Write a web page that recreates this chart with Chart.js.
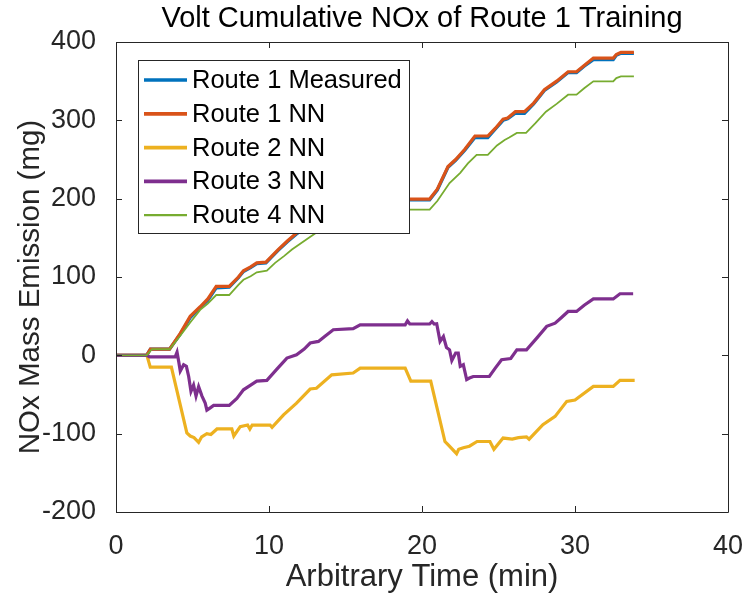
<!DOCTYPE html>
<html>
<head>
<meta charset="utf-8">
<script src="https://cdn.jsdelivr.net/npm/chart.js@4.4.1/dist/chart.umd.min.js"></script>
<style>
  html, body { margin: 0; padding: 0; background: #fff; }
  #wrap { width: 745px; height: 600px; }
</style>
</head>
<body>
<div id="wrap"><canvas id="nox-chart" width="745" height="600"></canvas></div>
<script>
/* Cumulative NOx, time in minutes, mass in mg */
const seriesNames = ['Route 1 Measured', 'Route 1 NN', 'Route 2 NN', 'Route 3 NN', 'Route 4 NN'];
const seriesColors = ['#0072BD', '#D95319', '#EDB120', '#7E2F8E', '#77AC30'];
const seriesWidths = [3.2, 3.2, 3.2, 3.2, 1.8];

const chartTitle = 'Volt Cumulative NOx of Route 1 Training';
const xTitle = 'Arbitrary Time (min)';
const yTitle = 'NOx Mass Emission (mg)';

const xTicks = [0, 10, 20, 30, 40];
const yTicks = [-200, -100, 0, 100, 200, 300, 400];

const r1MeasTime = [0, 2.0, 2.25, 3.5, 4.2, 4.85, 5.5, 6.0, 6.55, 7.4, 8.0, 8.33, 8.8, 9.2, 9.8, 10.2, 10.6, 11.2, 11.8, 12.5, 13.2, 14.0, 14.8, 15.5, 16.3, 17.2, 18.0, 19.2, 20.5, 21.0, 21.7, 22.2, 22.8, 23.46, 24.3, 24.8, 25.3, 25.6, 26.1, 26.7, 27.3, 28.0, 28.8, 29.55, 30.1, 30.6, 31.2, 32.5, 32.7, 33.0, 33.85];
const r1MeasVal = [0, 0, 8, 8, 27, 48, 61, 70, 86, 87, 99, 107, 112, 117, 118, 126, 134, 145, 155, 164, 171, 177, 183, 187, 192, 196, 198, 198.5, 198.5, 211, 240, 249, 262, 278, 278, 289, 300, 302, 309, 309, 321, 338, 349, 361, 361, 369, 377.5, 377.5, 383, 385.5, 385.5];

const r1NNTime = [0, 2.0, 2.25, 3.5, 4.2, 4.85, 5.5, 6.0, 6.55, 7.4, 8.0, 8.33, 8.8, 9.2, 9.8, 10.2, 10.6, 11.2, 11.8, 12.5, 13.2, 14.0, 14.8, 15.5, 16.3, 17.2, 18.0, 19.2, 20.5, 21.0, 21.7, 22.2, 22.8, 23.46, 24.3, 24.8, 25.3, 25.6, 26.1, 26.7, 27.3, 28.0, 28.8, 29.55, 30.1, 30.6, 31.2, 32.5, 32.7, 33.0, 33.85];
const r1NNVal = [0, 0, 8, 8, 28, 50, 62, 72, 88, 88, 100, 108, 113, 118, 119, 127, 135, 146, 156, 165, 172, 178, 184, 188, 193, 197, 199, 199.5, 199.5, 212, 241, 250, 263, 280, 280, 290, 301.6, 303, 311, 311, 322, 339, 350, 362, 362, 370, 379.5, 379.5, 384, 386.7, 386.7];

const r2NNTime = [0, 2.02, 2.24, 3.62, 4.63, 4.85, 5.1, 5.4, 5.6, 5.94, 6.2, 6.6, 7.57, 7.7, 8.12, 8.6, 8.75, 8.9, 10.07, 10.2, 10.95, 11.8, 12.69, 13.1, 14.1, 15.5, 15.96, 18.9, 19.27, 20.57, 21.5, 21.7, 22.26, 22.4, 22.7, 23.1, 23.6, 24.44, 24.7, 25.3, 25.9, 26.3, 26.83, 27.0, 27.9, 28.7, 29.46, 30.0, 31.2, 32.5, 32.94, 33.9];
const r2NNVal = [0, 0, -15, -15, -99, -103, -105, -111, -104, -100, -101, -94, -94, -103, -91, -89, -94, -89, -89, -92, -76, -61, -43, -42, -25, -22.6, -16.3, -16.3, -33, -33, -110, -114, -125.6, -120, -118, -116, -110, -110, -120, -105.6, -107, -105, -104, -107, -88.6, -78, -58.8, -57, -39.7, -39.7, -32, -32];

const r3NNTime = [0, 2.02, 2.2, 3.87, 3.99, 4.1, 4.2, 4.42, 4.6, 4.75, 4.9, 5.07, 5.23, 5.4, 5.62, 5.83, 5.94, 6.16, 6.38, 7.4, 7.9, 8.33, 8.8, 9.2, 9.86, 10.5, 11.17, 11.8, 12.3, 12.69, 13.23, 13.7, 14.2, 15.5, 15.96, 18.9, 19.05, 19.2, 20.5, 20.65, 20.8, 20.96, 21.18, 21.4, 21.6, 21.8, 21.95, 22.2, 22.37, 22.5, 22.7, 22.92, 23.1, 23.35, 24.4, 24.8, 25.2, 25.8, 26.2, 26.83, 27.5, 28.15, 28.7, 29.1, 29.55, 30.1, 30.6, 31.2, 32.5, 32.94, 33.8];
const r3NNVal = [0, 0, -2, -2, 4, -8, -20, -12, -14, -27, -46, -38, -52, -40, -52, -61, -70, -67, -64, -64, -55, -44, -38, -33, -32, -18, -3.5, 0.7, 8, 15.7, 17.8, 25, 32.7, 34, 39, 39, 44, 40, 40, 43, 40, 40.3, 17.8, 24, 10, 7, -6.5, 3, 3, -14, -12, -31, -29, -27, -27, -16, -5.6, -4, 7, 7, 22, 37, 41, 48, 56, 56, 64, 72, 72, 78.6, 78.6];

const r4NNTime = [0, 2.0, 2.35, 3.5, 4.2, 4.85, 5.5, 6.0, 6.55, 7.4, 8.0, 8.33, 8.8, 9.2, 9.86, 10.4, 11.0, 11.5, 12.3, 13.2, 14.0, 14.8, 15.5, 16.5, 17.5, 19.2, 20.5, 21.0, 21.8, 22.5, 23.0, 23.57, 24.3, 24.9, 25.4, 25.7, 26.2, 26.8, 27.4, 28.1, 28.8, 29.55, 30.1, 30.6, 31.2, 32.5, 32.7, 33.0, 33.85];
const r4NNVal = [0, 0, 8, 8, 25, 42, 58, 66, 77, 77, 90, 96.5, 101, 106, 108, 118, 127, 135, 146, 158, 166, 172, 177, 182, 185, 186, 186, 197, 220, 233, 245, 256, 256, 268, 275, 278, 284, 284, 296, 311, 321, 332.7, 332.7, 341, 349.7, 349.7, 354, 356, 356];

const seriesTimes = [r1MeasTime, r1NNTime, r2NNTime, r3NNTime, r4NNTime];
const seriesVals = [r1MeasVal, r1NNVal, r2NNVal, r3NNVal, r4NNVal];

const axisColor = '#262626';
const fontFamily = '"Liberation Sans", Arial, Helvetica, sans-serif';

// build datasets; later routes are drawn on top like the original plot order
const datasets = seriesNames.map((name, i) => ({
  label: name,
  data: seriesTimes[i].map((t, j) => ({ x: t, y: seriesVals[i][j] })),
  borderColor: seriesColors[i],
  backgroundColor: seriesColors[i],
  borderWidth: seriesWidths[i],
  pointRadius: 0,
  tension: 0,
  fill: false,
  order: seriesNames.length - 1 - i
}));

// box around the plot with inward tick marks on all four sides
const axesBox = {
  id: 'axesBox',
  afterDatasetsDraw(chart) {
    const { ctx, chartArea: a, scales } = chart;
    const tl = 6;
    ctx.save();
    ctx.strokeStyle = axisColor;
    ctx.lineWidth = 1;
    ctx.beginPath();
    ctx.rect(Math.round(a.left) + 0.5, Math.round(a.top) + 0.5, Math.round(a.right - a.left), Math.round(a.bottom - a.top));
    xTicks.forEach(v => {
      const x = Math.round(scales.x.getPixelForValue(v)) + 0.5;
      ctx.moveTo(x, a.bottom); ctx.lineTo(x, a.bottom - tl);
      ctx.moveTo(x, a.top); ctx.lineTo(x, a.top + tl);
    });
    yTicks.forEach(v => {
      const y = Math.round(scales.y.getPixelForValue(v)) + 0.5;
      ctx.moveTo(a.left, y); ctx.lineTo(a.left + tl, y);
      ctx.moveTo(a.right, y); ctx.lineTo(a.right - tl, y);
    });
    ctx.stroke();
    ctx.restore();
  }
};

// title centred over the plot, y-axis label centred a bit below the plot middle
const plotTexts = {
  id: 'plotTexts',
  afterDraw(chart) {
    const { ctx, chartArea: a } = chart;
    ctx.save();
    ctx.textAlign = 'center';
    ctx.textBaseline = 'middle';
    ctx.fillStyle = '#000';
    ctx.font = '29px ' + fontFamily;
    ctx.fillText(chartTitle, (a.left + a.right) / 2, 19);
    ctx.fillStyle = axisColor;
    ctx.font = '29.5px ' + fontFamily;
    ctx.translate(31, 287);
    ctx.rotate(-Math.PI / 2);
    ctx.fillText(yTitle, 0, 0);
    ctx.restore();
  }
};

// boxed legend in the upper left of the plot
const boxLegend = {
  id: 'boxLegend',
  afterDraw(chart) {
    const { ctx, chartArea: a } = chart;
    const left = a.left + 22, top = 60, w = 271, h = 173;
    const rowH = 33.8, firstRow = 80;
    ctx.save();
    ctx.fillStyle = '#fff';
    ctx.fillRect(left, top, w, h);
    ctx.strokeStyle = axisColor;
    ctx.lineWidth = 1;
    ctx.strokeRect(Math.round(left) + 0.5, top + 0.5, w, h);
    ctx.font = '25.5px ' + fontFamily;
    ctx.textBaseline = 'middle';
    ctx.textAlign = 'left';
    chart.data.datasets.forEach((ds, i) => {
      const y = firstRow + i * rowH;
      ctx.strokeStyle = ds.borderColor;
      ctx.lineWidth = ds.borderWidth + 0.5;
      ctx.beginPath();
      ctx.moveTo(left + 6, y);
      ctx.lineTo(left + 49, y);
      ctx.stroke();
      ctx.fillStyle = '#000';
      ctx.fillText(ds.label, left + 54, y + 1);
    });
    ctx.restore();
  }
};

const config = {
  type: 'line',
  data: { datasets: datasets },
  options: {
    responsive: false,
    animation: false,
    layout: { padding: { left: 0, right: 17, top: 42, bottom: 0 } },
    plugins: {
      legend: { display: false },
      tooltip: { enabled: false },
      title: { display: false }
    },
    scales: {
      x: {
        type: 'linear',
        min: 0,
        max: 40,
        grid: { display: false },
        border: { display: false },
        afterBuildTicks: s => { s.ticks = xTicks.map(v => ({ value: v })); },
        // fixed axis height, and let the last tick label hang into the right margin
        afterFit: s => { s.height = 88; s.paddingLeft = 0; s.paddingRight = 0; },
        ticks: {
          color: axisColor,
          padding: 10,
          maxRotation: 0,
          font: { family: fontFamily, size: 27 }
        },
        title: {
          display: true,
          text: xTitle,
          color: axisColor,
          font: { family: fontFamily, size: 31, lineHeight: 1.2 },
          padding: { top: 0, bottom: 3.5 }
        }
      },
      y: {
        type: 'linear',
        min: -200,
        max: 400,
        grid: { display: false },
        border: { display: false },
        afterBuildTicks: s => { s.ticks = yTicks.map(v => ({ value: v })); },
        afterFit: s => { s.width = 116; s.paddingTop = 0; s.paddingBottom = 0; },
        ticks: {
          color: axisColor,
          padding: 12,
          font: { family: fontFamily, size: 27 }
        },
        title: { display: false }
      }
    }
  },
  plugins: [axesBox, plotTexts, boxLegend]
};

let ctx = document.getElementById('nox-chart').getContext('2d');
let noxChart = new Chart(ctx, config);
</script>
</body>
</html>
